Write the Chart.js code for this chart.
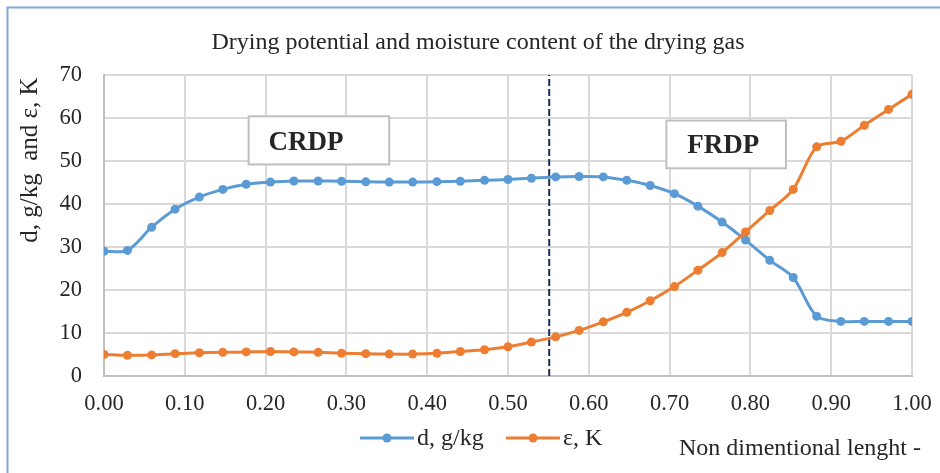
<!DOCTYPE html>
<html>
<head>
<meta charset="utf-8">
<script src="https://cdn.jsdelivr.net/npm/chart.js@4/dist/chart.umd.min.js"></script>
<style>
  body { margin: 0; background: #fff; }
  canvas { display: block; }
</style>
</head>
<body>
<canvas id="dryChart" width="940" height="473"></canvas>
<script>
// non dimensional length along the dryer
const lengthValues = [0.000, 0.029, 0.059, 0.088, 0.118, 0.147, 0.176, 0.206, 0.235, 0.265,
    0.294, 0.324, 0.353, 0.382, 0.412, 0.441, 0.471, 0.500, 0.529, 0.559,
    0.588, 0.618, 0.647, 0.676, 0.706, 0.735, 0.765, 0.794, 0.824, 0.853,
    0.882, 0.912, 0.941, 0.971, 1.000];
// moisture content d, g/kg
const dValues = [29.0, 29.2, 34.6, 38.8, 41.6, 43.4, 44.6, 45.1, 45.35, 45.35,
    45.3, 45.15, 45.1, 45.1, 45.2, 45.3, 45.5, 45.7, 46.0, 46.3,
    46.4, 46.3, 45.5, 44.3, 42.4, 39.5, 35.8, 31.6, 26.9, 22.9,
    13.9, 12.7, 12.7, 12.7, 12.7];
// drying potential eps, K
const epsValues = [5.0, 4.8, 4.9, 5.2, 5.4, 5.5, 5.6, 5.7, 5.6, 5.5,
    5.3, 5.2, 5.1, 5.1, 5.3, 5.7, 6.1, 6.8, 7.9, 9.1,
    10.6, 12.6, 14.8, 17.5, 20.8, 24.6, 28.7, 33.5, 38.5, 43.4,
    53.3, 54.6, 58.3, 62.0, 65.5];
const seriesNames = ['d, g/kg', 'ε, K'];
const boundaryX = [0.551, 0.551];
const boundaryY = [0, 70];
const xTicks = [0, 0.1, 0.2, 0.3, 0.4, 0.5, 0.6, 0.7, 0.8, 0.9, 1.0];
const yTicks = [0, 10, 20, 30, 40, 50, 60, 70];

const BLUE = '#5B9BD5';
const ORANGE = '#ED7D31';
const TEXT = '#262626';
const SERIF = '"Liberation Serif", "Times New Roman", serif';

function toPoints(xs, ys){
    return xs.map((x, i) => ({x: x, y: ys[i]}));
}

// text, boxes, legend and frame drawn around the chart
const decorations = {
    id: 'decorations',
    beforeDraw(chart){
        const ctx = chart.ctx;
        ctx.save();
        ctx.fillStyle = '#fff';
        ctx.fillRect(0, 0, chart.width, chart.height);
        ctx.strokeStyle = '#7FA8DA';
        ctx.lineWidth = 2;
        ctx.beginPath();
        ctx.moveTo(7.5, chart.height);
        ctx.lineTo(7.5, 7.5);
        ctx.lineTo(chart.width, 7.5);
        ctx.stroke();
        ctx.restore();
    },
    beforeDatasetsDraw(chart){
        const ctx = chart.ctx;
        const xs = chart.scales.x, ys = chart.scales.y;
        const boxes = [
            {text: 'CRDP', x0: 0.179, x1: 0.353, y0: 60.4, y1: 49.2, tx: 0.2035, ty: 54.2},
            {text: 'FRDP', x0: 0.696, x1: 0.844, y0: 59.4, y1: 48.3, tx: 0.7218, ty: 53.4}
        ];
        ctx.save();
        boxes.forEach(b => {
            const l = xs.getPixelForValue(b.x0), r = xs.getPixelForValue(b.x1);
            const t = ys.getPixelForValue(b.y0), btm = ys.getPixelForValue(b.y1);
            ctx.fillStyle = '#fff';
            ctx.fillRect(l, t, r - l, btm - t);
            ctx.strokeStyle = '#BFBFBF';
            ctx.lineWidth = 2;
            ctx.strokeRect(l, t, r - l, btm - t);
            ctx.fillStyle = TEXT;
            ctx.font = 'bold 27px ' + SERIF;
            ctx.textAlign = 'left';
            ctx.textBaseline = 'middle';
            ctx.fillText(b.text, xs.getPixelForValue(b.tx), ys.getPixelForValue(b.ty));
        });
        ctx.restore();
    },
    afterDraw(chart){
        const ctx = chart.ctx;
        ctx.save();
        ctx.fillStyle = TEXT;
        ctx.textBaseline = 'middle';

        // title
        ctx.font = '24px ' + SERIF;
        ctx.textAlign = 'center';
        ctx.fillText('Drying potential and moisture content of the drying gas', 478, 43);

        // y axis title
        ctx.save();
        ctx.translate(30, 160);
        ctx.rotate(-Math.PI / 2);
        ctx.font = '25px ' + SERIF;
        ctx.fillText('d, g/kg  and ε, K', 0, 0);
        ctx.restore();

        // legend
        const items = [
            {label: seriesNames[0], color: BLUE, x: 360},
            {label: seriesNames[1], color: ORANGE, x: 506}
        ];
        ctx.font = '24px ' + SERIF;
        ctx.textAlign = 'left';
        items.forEach(it => {
            ctx.strokeStyle = it.color;
            ctx.lineWidth = 3;
            ctx.beginPath();
            ctx.moveTo(it.x, 438);
            ctx.lineTo(it.x + 54, 438);
            ctx.stroke();
            ctx.fillStyle = it.color;
            ctx.beginPath();
            ctx.arc(it.x + 27, 438, 4.5, 0, Math.PI * 2);
            ctx.fill();
            ctx.fillStyle = TEXT;
            ctx.fillText(it.label, it.x + 57, 439);
        });

        // x axis title
        ctx.fillText('Non dimentional lenght -', 679, 449);
        ctx.restore();
    }
};

let dryChartJS;
function createDryChart(){
    const canvas = document.getElementById('dryChart');
    dryChartJS = new Chart(canvas, {
        type: 'line',
        data: {
            datasets: [{
                label: seriesNames[1],
                data: toPoints(lengthValues, epsValues),
                borderColor: ORANGE,
                backgroundColor: ORANGE,
                borderWidth: 3,
                pointRadius: 4.5,
                pointBorderWidth: 0,
                pointBackgroundColor: ORANGE,
                tension: 0.3,
                order: 0
            }, {
                label: seriesNames[0],
                data: toPoints(lengthValues, dValues),
                borderColor: BLUE,
                backgroundColor: BLUE,
                borderWidth: 3,
                pointRadius: 4.5,
                pointBorderWidth: 0,
                pointBackgroundColor: BLUE,
                tension: 0.3,
                order: 1
            }, {
                label: 'boundary',
                data: toPoints(boundaryX, boundaryY),
                borderColor: '#1F2B5B',
                borderWidth: 2,
                borderDash: [7, 3],
                pointRadius: 0,
                order: 2
            }]
        },
        options: {
            responsive: false,
            animation: false,
            devicePixelRatio: 1,
            layout: {
                padding: {left: 0, top: 75, right: 28, bottom: 57}
            },
            plugins: {
                legend: {display: false},
                title: {display: false},
                tooltip: {enabled: false}
            },
            scales: {
                x: {
                    type: 'linear',
                    min: 0,
                    max: 1,
                    afterFit: (s) => {
                        s.height = 40;
                        s.paddingLeft = 0;
                        s.paddingRight = 0;
                    },
                    afterBuildTicks: (s) => { s.ticks = xTicks.map(v => ({value: v})); },
                    grid: {color: '#D9D9D9', lineWidth: 2, drawTicks: false},
                    border: {color: '#BFBFBF', width: 2},
                    ticks: {
                        padding: 15,
                        color: TEXT,
                        font: {family: SERIF, size: 22.5},
                        callback: (v) => Number(v).toFixed(2)
                    }
                },
                y: {
                    min: 0,
                    max: 70,
                    afterFit: (s) => {
                        s.width = 104;
                        s.paddingTop = 0;
                        s.paddingBottom = 0;
                    },
                    afterBuildTicks: (s) => { s.ticks = yTicks.map(v => ({value: v})); },
                    grid: {color: '#D9D9D9', lineWidth: 2, drawTicks: false},
                    border: {color: '#BFBFBF', width: 2},
                    ticks: {
                        padding: 22,
                        color: TEXT,
                        font: {family: SERIF, size: 22.5}
                    }
                }
            }
        },
        plugins: [decorations]
    });
}

document.addEventListener('DOMContentLoaded', createDryChart);
</script>
</body>
</html>
